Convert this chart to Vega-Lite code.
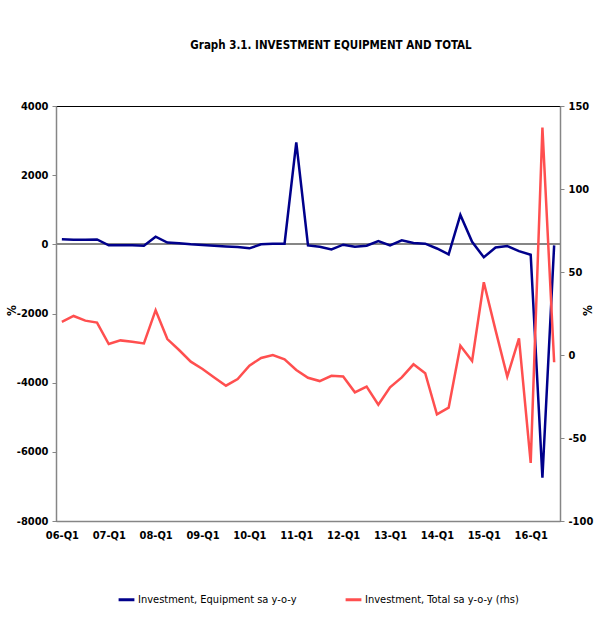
{
  "$schema": "https://vega.github.io/schema/vega-lite/v6.json",
  "width": 504,
  "height": 415,
  "autosize": {"type": "none"},
  "padding": {"left": 56, "top": 106, "right": 37, "bottom": 113},
  "background": "white",
  "config": {
    "font": "DejaVu Sans Condensed",
    "view": {"stroke": "#000000", "strokeWidth": 1},
    "axis": {"labelFont": "DejaVu Sans Condensed", "labelFontWeight": "bold", "labelFontSize": 11, "labelColor": "#000", "titleFont": "DejaVu Sans Condensed", "titleFontWeight": "bold", "titleFontSize": 12, "titleColor": "#000", "grid": false, "domainColor": "#868686", "domainWidth": 1.5, "tickColor": "#868686"},
    "legend": {"labelFont": "DejaVu Sans Condensed", "labelFontSize": 11, "labelColor": "#000"}
  },
  "title": {"text": "Graph 3.1. INVESTMENT EQUIPMENT AND TOTAL", "font": "DejaVu Sans Condensed", "fontSize": 11.5, "fontWeight": "bold", "color": "#000", "anchor": "middle", "dx": 23, "offset": 49},
  "data": {"values": [
    {"q": "06-Q1", "equip": 150, "total": 20},
    {"q": "06-Q2", "equip": 135, "total": 23.5},
    {"q": "06-Q3", "equip": 135, "total": 20.7},
    {"q": "06-Q4", "equip": 140, "total": 19.5},
    {"q": "07-Q1", "equip": -30, "total": 6.6},
    {"q": "07-Q2", "equip": -30, "total": 8.8},
    {"q": "07-Q3", "equip": -30, "total": 8},
    {"q": "07-Q4", "equip": -40, "total": 7},
    {"q": "08-Q1", "equip": 220, "total": 27},
    {"q": "08-Q2", "equip": 50, "total": 9.6},
    {"q": "08-Q3", "equip": 30, "total": 3},
    {"q": "08-Q4", "equip": 0, "total": -4},
    {"q": "09-Q1", "equip": -20, "total": -8.4},
    {"q": "09-Q2", "equip": -40, "total": -13.5},
    {"q": "09-Q3", "equip": -60, "total": -18.5},
    {"q": "09-Q4", "equip": -80, "total": -14.5},
    {"q": "10-Q1", "equip": -115, "total": -6.4},
    {"q": "10-Q2", "equip": 0, "total": -1.8},
    {"q": "10-Q3", "equip": 20, "total": 0},
    {"q": "10-Q4", "equip": 20, "total": -2.6},
    {"q": "11-Q1", "equip": 2950, "total": -9},
    {"q": "11-Q2", "equip": -30, "total": -13.7},
    {"q": "11-Q3", "equip": -70, "total": -15.7},
    {"q": "11-Q4", "equip": -145, "total": -12.5},
    {"q": "12-Q1", "equip": -10, "total": -13},
    {"q": "12-Q2", "equip": -70, "total": -22.5},
    {"q": "12-Q3", "equip": -40, "total": -19},
    {"q": "12-Q4", "equip": 95, "total": -30},
    {"q": "13-Q1", "equip": -30, "total": -19.5},
    {"q": "13-Q2", "equip": 115, "total": -13.5},
    {"q": "13-Q3", "equip": 40, "total": -5.6},
    {"q": "13-Q4", "equip": 20, "total": -11},
    {"q": "14-Q1", "equip": -120, "total": -35.7},
    {"q": "14-Q2", "equip": -290, "total": -31.7},
    {"q": "14-Q3", "equip": 850, "total": 5.6},
    {"q": "14-Q4", "equip": 75, "total": -3.6},
    {"q": "15-Q1", "equip": -375, "total": 43.8},
    {"q": "15-Q2", "equip": -90, "total": 15},
    {"q": "15-Q3", "equip": -50, "total": -13},
    {"q": "15-Q4", "equip": -195, "total": 10},
    {"q": "16-Q1", "equip": -300, "total": -65},
    {"q": "16-Q2", "equip": -6750, "total": 137},
    {"q": "16-Q3", "equip": -30, "total": -4.4}
  ]},
  "encoding": {
    "x": {"field": "q", "type": "ordinal", "sort": null,
      "scale": {"type": "point", "padding": 0.5},
      "axis": {"values": ["06-Q1","07-Q1","08-Q1","09-Q1","10-Q1","11-Q1","12-Q1","13-Q1","14-Q1","15-Q1","16-Q1"], "labelAngle": 0, "ticks": false, "title": null, "labelPadding": 8}}
  },
  "layer": [
    {
      "layer": [
        {"mark": {"type": "rule", "color": "#868686", "strokeWidth": 1.5}, "encoding": {"x": null, "y": {"datum": 0, "type": "quantitative"}}},
        {"mark": {"type": "line", "strokeWidth": 2.5},
          "encoding": {
            "y": {"field": "equip", "type": "quantitative", "scale": {"domain": [-8000, 4000]},
              "axis": {"orient": "left", "values": [-8000,-6000,-4000,-2000,0,2000,4000], "labelExpr": "toString(datum.value)", "title": "%", "titleAngle": -90, "titleX": -38, "titleY": 204, "tickSize": 4, "labelPadding": 4}},
            "color": {"datum": "Investment, Equipment sa y-o-y", "type": "nominal",
              "scale": {"domain": ["Investment, Equipment sa y-o-y", "Investment, Total sa y-o-y (rhs)"], "range": ["#00008B", "#FF4F4F"]},
              "legend": {"orient": "none", "direction": "horizontal", "legendX": 61, "legendY": 484, "title": null, "symbolType": "stroke", "symbolStrokeWidth": 3, "symbolSize": 250, "labelOffset": 2, "columnPadding": 42, "labelLimit": 300}}
          }}
      ]
    },
    {"mark": {"type": "line", "strokeWidth": 2.5},
      "encoding": {
        "y": {"field": "total", "type": "quantitative", "scale": {"domain": [-100, 150]},
          "axis": {"orient": "right", "values": [-100,-50,0,50,100,150], "labelExpr": "toString(datum.value)", "title": "%", "titleAngle": -90, "titleX": 34, "titleY": 204, "tickSize": 4, "labelPadding": 4}},
        "color": {"datum": "Investment, Total sa y-o-y (rhs)", "type": "nominal"}
      }}
  ],
  "resolve": {"scale": {"y": "independent"}}
}
